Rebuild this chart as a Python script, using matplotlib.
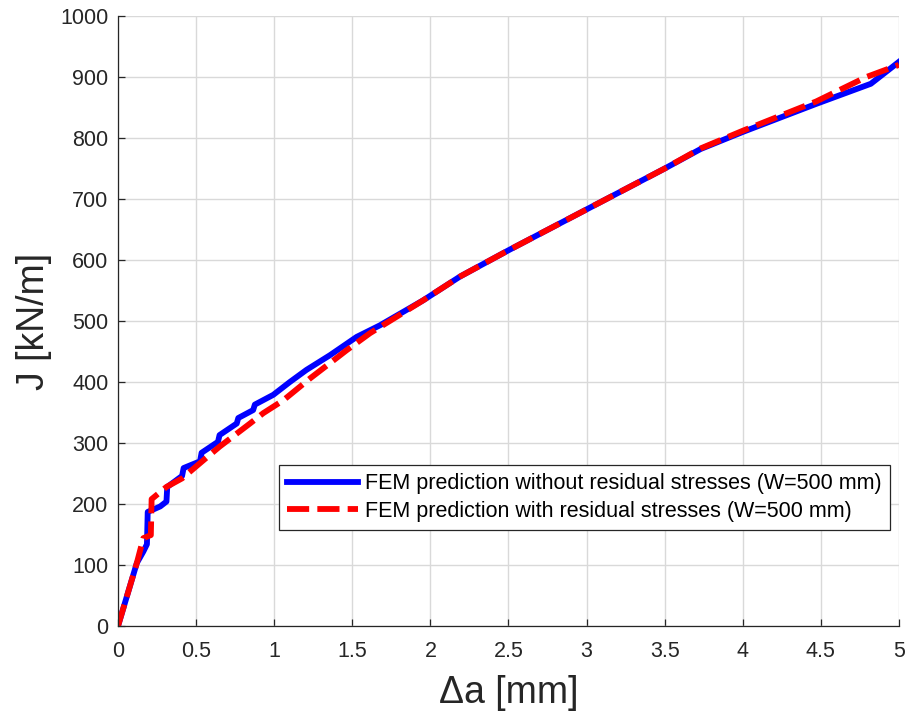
import matplotlib
matplotlib.use('Agg')
import matplotlib.pyplot as plt

plt.rcParams['font.family'] = ['Liberation Sans', 'DejaVu Sans']

# FEM prediction without residual stresses
da_no_rs = [0, 0.12, 0.162, 0.185, 0.19, 0.27, 0.31, 0.315, 0.41, 0.42, 0.525, 0.535,
            0.64, 0.65, 0.76, 0.77, 0.865, 0.876, 0.994, 1.10, 1.207, 1.357, 1.528, 1.677,
            1.954, 2.19, 2.5, 3.0, 3.5, 3.73, 4.0, 4.47, 4.82, 5.0]
j_no_rs = [0, 103, 122, 134, 187, 196, 204, 228, 246, 259, 270, 284,
           302, 313, 332, 341, 354, 363, 379, 400, 420, 444, 474, 493,
           534, 573, 616, 683, 750, 782, 810, 856, 889, 925]

# FEM prediction with residual stresses
da_rs = [0, 0.12, 0.162, 0.21, 0.215, 0.31, 0.41, 0.525, 0.65, 0.845, 0.93, 1.058,
         1.23, 1.357, 1.463, 1.613, 1.784, 1.954, 2.19, 2.5, 3.0, 3.5, 3.73, 4.0,
         4.47, 4.79, 5.0]
j_rs = [0, 103, 144, 149, 208, 228, 242, 267, 294, 332, 349, 370,
        406, 431, 452, 480, 507, 534, 573, 616, 683, 750, 783, 812,
        860, 900, 920]

fig = plt.figure(figsize=(9.08, 7.15), dpi=100)
ax = fig.add_axes([0.130, 0.1245, 0.860, 0.853])

ax.plot(da_no_rs, j_no_rs, color='blue', linewidth=4.2,
        label='FEM prediction without residual stresses (W=500 mm)')
ax.plot(da_rs, j_rs, color='red', linewidth=4.2, linestyle=(0, (3.8, 1.4)),
        label='FEM prediction with residual stresses (W=500 mm)')

ax.set_xlim(0, 5)
ax.set_ylim(0, 1000)
ax.set_xticks([0, 0.5, 1, 1.5, 2, 2.5, 3, 3.5, 4, 4.5, 5])
ax.set_xticklabels(['0', '0.5', '1', '1.5', '2', '2.5', '3', '3.5', '4', '4.5', '5'])
ax.set_yticks(range(0, 1001, 100))
ax.tick_params(direction='in', labelsize=15.5, colors='#262626', length=5, width=0.9)
ax.tick_params(axis='x', pad=11)
ax.tick_params(axis='y', pad=7)
ax.grid(True, color='#d9d9d9', linewidth=1.0)
ax.set_axisbelow(True)
ax.spines['top'].set_visible(False)
ax.spines['right'].set_visible(False)
for s in ['left', 'bottom']:
    ax.spines[s].set_color('#262626')
    ax.spines[s].set_linewidth(0.9)

ax.set_xlabel('Δa [mm]', fontsize=27, color='#262626', labelpad=9)
ax.set_ylabel('J [kN/m]', fontsize=27, color='#262626', labelpad=6)

leg = ax.legend(loc='lower right', bbox_to_anchor=(0.9885, 0.157), borderaxespad=0,
                fontsize=15.5, fancybox=False, edgecolor='#262626', framealpha=1,
                handlelength=3.3, handletextpad=0.3, borderpad=0.4, labelspacing=0.3)
leg.get_frame().set_linewidth(0.9)

fig.savefig('out.png', dpi=100)
